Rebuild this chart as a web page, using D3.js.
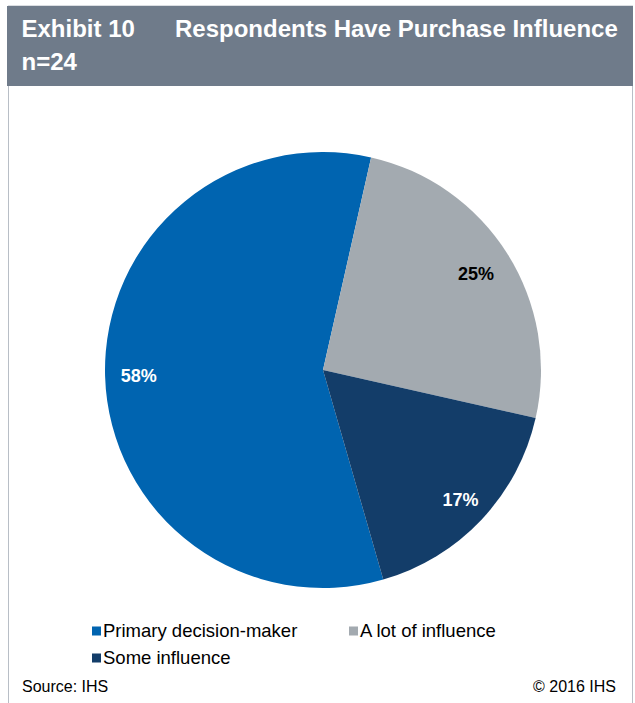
<!DOCTYPE html>
<html>
<head>
<meta charset="utf-8">
<script src="https://cdn.jsdelivr.net/npm/d3@7"></script>
<style>
  html, body { margin: 0; padding: 0; background: #fff; }
  svg { display: block; font-family: Arial, "Liberation Sans", sans-serif; }
</style>
</head>
<body>
<svg id="chart" width="635" height="703"></svg>
<script>
// Purchase influence of respondents (n=24)
const categories = ["Primary decision-maker", "A lot of influence", "Some influence"];
const shares = [58, 25, 17];
const sliceColors = ["#0064B0", "#A3AAB0", "#133D69"];
const labelColors = ["#ffffff", "#000000", "#ffffff"];

const svg = d3.select("#chart");
const W = 635, H = 703;

// Frame and header band
svg.append("rect").attr("x", 8.5).attr("y", 6).attr("width", 624).attr("height", H)
  .attr("fill", "#fff").attr("stroke", "#B8BEC6").attr("stroke-width", 1);
svg.append("rect").attr("x", 7).attr("y", 6).attr("width", 626).attr("height", 80)
  .attr("fill", "#6F7B8A");

svg.append("text").attr("x", 21.5).attr("y", 37).attr("fill", "#fff")
  .attr("font-size", 24).attr("font-weight", "bold").text("Exhibit 10");
svg.append("text").attr("x", 175).attr("y", 37).attr("fill", "#fff")
  .attr("font-size", 24).attr("font-weight", "bold").text("Respondents Have Purchase Influence");
svg.append("text").attr("x", 21.5).attr("y", 70).attr("fill", "#fff")
  .attr("font-size", 24).attr("font-weight", "bold").text("n=24");

// Pie
const cx = 323, cy = 370, R = 218;
const startDeg = 163.95;
const pie = d3.pie().sort(null).value(d => d)
  .startAngle(startDeg * Math.PI / 180)
  .endAngle((startDeg + 360) * Math.PI / 180);
const arcs = pie(shares);
const arc = d3.arc().innerRadius(0).outerRadius(R);

const g = svg.append("g").attr("transform", `translate(${cx},${cy})`);
g.selectAll("path").data(arcs).join("path")
  .attr("d", arc)
  .attr("fill", (d, i) => sliceColors[i]);

// value labels sit along each slice's mid-angle
const labelR = [0.845, 0.83, 0.867];
g.selectAll("text.val").data(arcs).join("text")
  .attr("class", "val")
  .attr("transform", (d, i) => {
    const a = d3.arc().innerRadius(R * labelR[i]).outerRadius(R * labelR[i]);
    return `translate(${a.centroid(d)})`;
  })
  .attr("text-anchor", "middle").attr("dy", "0.36em")
  .attr("font-size", 18).attr("font-weight", "bold")
  .attr("fill", (d, i) => labelColors[i])
  .text(d => d.data + "%");

// Legend
const legendPos = [[92, 631], [349, 631], [92, 658]];
const lg = svg.append("g");
categories.forEach((c, i) => {
  const [x, y] = legendPos[i];
  lg.append("rect").attr("x", x).attr("y", y - 4.5).attr("width", 9).attr("height", 9)
    .attr("fill", sliceColors[i]);
  lg.append("text").attr("x", x + 11).attr("y", y).attr("dy", "0.35em")
    .attr("font-size", 18.5).attr("fill", "#000").text(c);
});

// Footer
svg.append("text").attr("x", 22).attr("y", 692).attr("font-size", 16)
  .attr("fill", "#000").text("Source: IHS");
svg.append("text").attr("x", 616).attr("y", 692).attr("font-size", 16)
  .attr("text-anchor", "end").attr("fill", "#000").text("© 2016 IHS");
</script>
</body>
</html>
